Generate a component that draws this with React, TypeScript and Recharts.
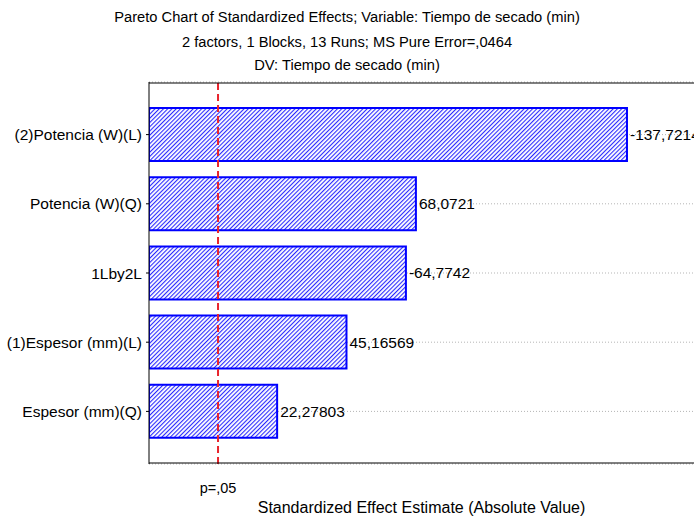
import { BarChart, Bar, XAxis, YAxis, CartesianGrid, ReferenceLine, LabelList } from 'recharts'

const factors = ['(2)Potencia (W)(L)', 'Potencia (W)(Q)', '1Lby2L', '(1)Espesor (mm)(L)', 'Espesor (mm)(Q)']
const effects = [-137.7214, 68.0721, -64.7742, 45.16569, 22.27803]
const axisMin = -20
const axisMax = 160
const pCritical = 2.776
const minorTicks = Array.from({ length: 46 }, (_, i) => axisMin + i * 4)
const majorTicks = Array.from({ length: 10 }, (_, i) => axisMin + i * 20)

const data = factors.map((name, i) => ({
  name,
  range: [axisMin, Math.abs(effects[i])],
  label: String(effects[i]).replace('.', ','),
}))

const font = '"Liberation Sans", Arial, sans-serif'

const textStyle = {
  position: 'absolute' as const,
  left: 0,
  width: 694,
  textAlign: 'center' as const,
  fontSize: 14.7,
  fontFamily: font,
  color: '#000',
  whiteSpace: 'nowrap' as const,
}

export default function App() {
  return (
    <div style={{ position: 'relative', width: 694, height: 522, overflow: 'hidden', background: '#fff' }}>
      <style>{`body{margin:0;overflow:hidden}`}</style>
      <svg width={0} height={0} style={{ position: 'absolute' }}>
        <defs>
          <pattern id="hatch" width={3} height={3} patternUnits="userSpaceOnUse" patternTransform="rotate(45)">
            <rect width={3} height={3} fill="#fff" />
            <rect width={1.1} height={3} fill="#2a2aff" />
          </pattern>
        </defs>
      </svg>
      <div style={{ ...textStyle, top: 8.5 }}>Pareto Chart of Standardized Effects; Variable: Tiempo de secado (min)</div>
      <div style={{ ...textStyle, top: 33.5 }}>2 factors, 1 Blocks, 13 Runs; MS Pure Error=,0464</div>
      <div style={{ ...textStyle, top: 56.5 }}>DV: Tiempo de secado (min)</div>
      <div style={{ ...textStyle, top: 499, left: 149, width: 545, fontSize: 16 }}>
        Standardized Effect Estimate (Absolute Value)
      </div>
      <BarChart
        width={700}
        height={522}
        data={data}
        layout="vertical"
        margin={{ top: 82, right: 5.5, bottom: 58, left: 0 }}
        barSize={53}
        style={{ position: 'absolute', left: 0, top: 0 }}
      >
        <CartesianGrid xAxisId="main" horizontal vertical={false} stroke="#b5b5b5" strokeDasharray="1 2" />
        <XAxis
          xAxisId="main"
          type="number"
          domain={[axisMin, axisMax]}
          ticks={minorTicks}
          allowDataOverflow
          orientation="bottom"
          mirror
          height={1}
          tick={false}
          tickSize={2}
          axisLine={{ stroke: '#000' }}
          tickLine={{ stroke: '#000' }}
        />
        <XAxis
          xAxisId="bottomMajor"
          type="number"
          domain={[axisMin, axisMax]}
          ticks={majorTicks}
          allowDataOverflow
          orientation="bottom"
          mirror
          height={1}
          tick={false}
          tickSize={4}
          axisLine={false}
          tickLine={{ stroke: '#000' }}
        />
        <XAxis
          xAxisId="topMinor"
          type="number"
          domain={[axisMin, axisMax]}
          ticks={minorTicks}
          allowDataOverflow
          orientation="top"
          mirror
          height={1}
          tick={false}
          tickSize={2}
          axisLine={{ stroke: '#000' }}
          tickLine={{ stroke: '#000' }}
        />
        <XAxis
          xAxisId="topMajor"
          type="number"
          domain={[axisMin, axisMax]}
          ticks={majorTicks}
          allowDataOverflow
          orientation="top"
          mirror
          height={1}
          tick={false}
          tickSize={4}
          axisLine={false}
          tickLine={{ stroke: '#000' }}
        />
        <YAxis
          type="category"
          dataKey="name"
          width={149}
          padding={{ top: 18, bottom: 18 }}
          tickSize={3}
          tickMargin={4}
          axisLine={{ stroke: '#000' }}
          tickLine={{ stroke: '#000' }}
          tick={{ fill: '#000', fontSize: 15.5, fontFamily: font }}
        />
        <Bar
          xAxisId="main"
          dataKey="range"
          fill="url(#hatch)"
          stroke="#0000ff"
          strokeWidth={2}
          isAnimationActive={false}
        >
          <LabelList dataKey="label" position="right" offset={3} fill="#000" fontSize={15.5} fontFamily={font} />
        </Bar>
        <ReferenceLine
          xAxisId="main"
          x={pCritical}
          stroke="#e8242c"
          strokeWidth={2}
          strokeDasharray="7 4"
          label={{ value: 'p=,05', position: 'bottom', offset: 19, fill: '#000', fontSize: 14.5, fontFamily: font }}
        />
      </BarChart>
    </div>
  )
}
